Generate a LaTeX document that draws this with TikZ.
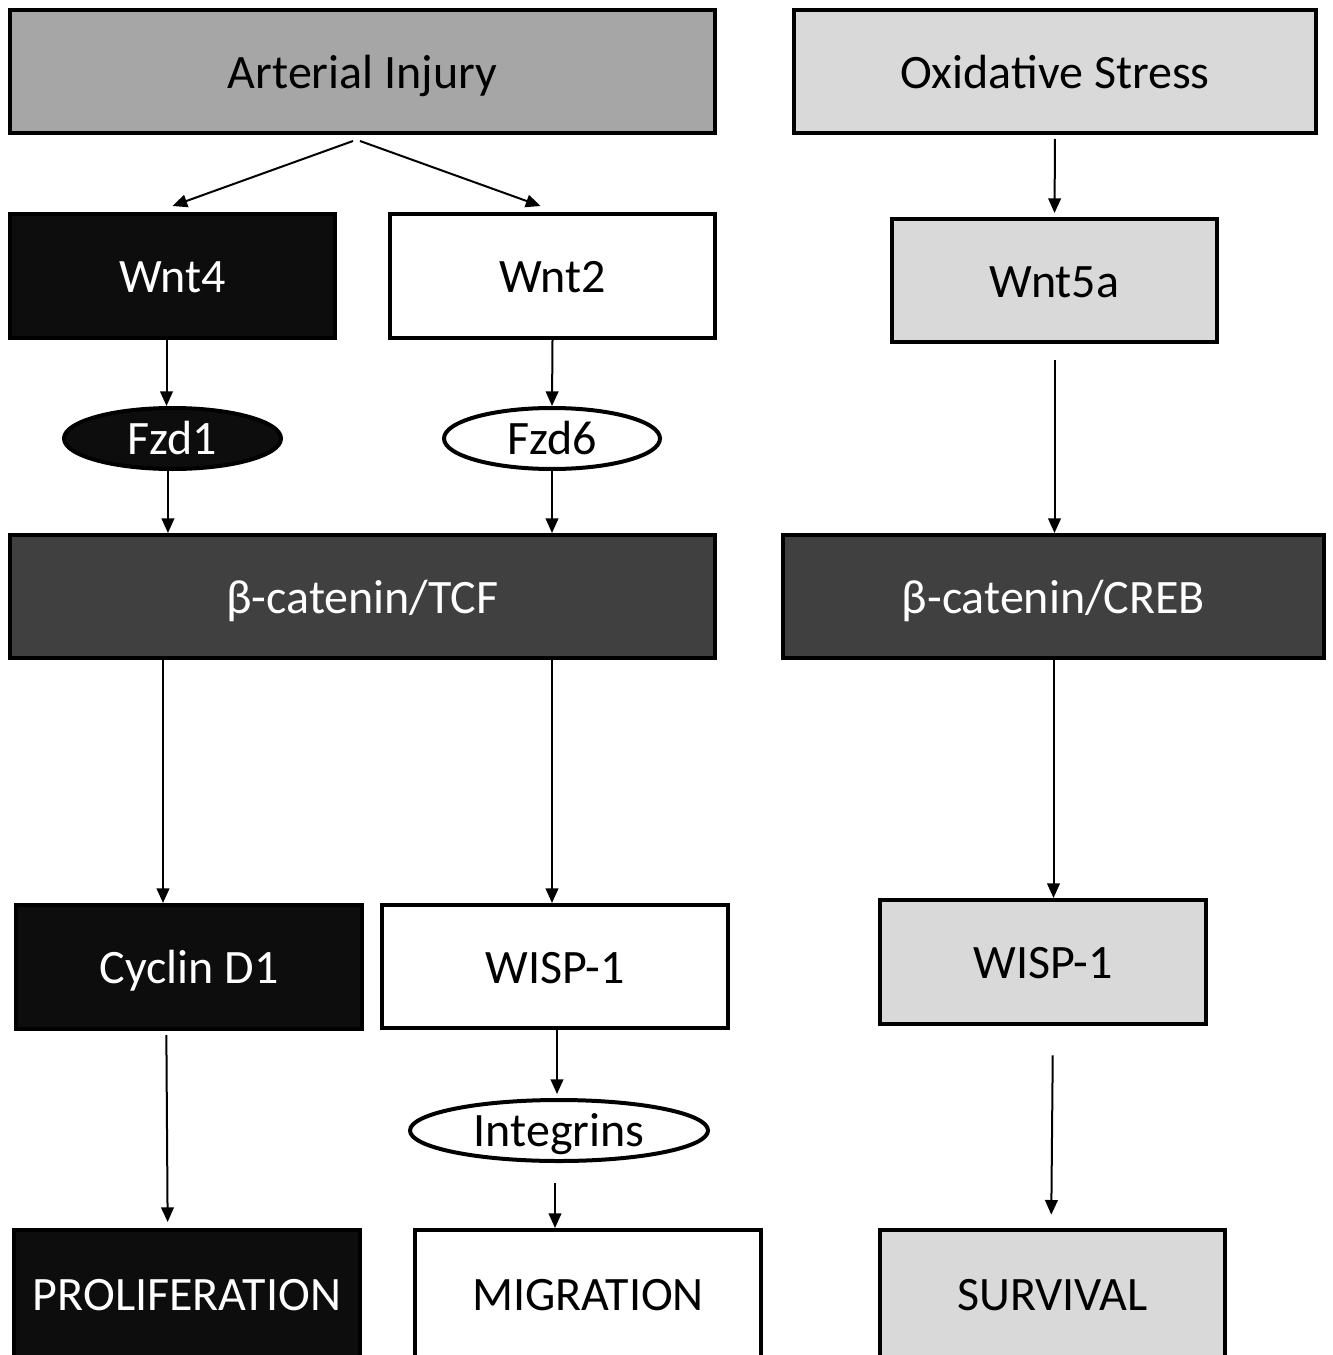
\documentclass[tikz,border=0pt]{standalone}
\usepackage{fontspec}
\setmainfont{Carlito}
\usetikzlibrary{shapes.geometric,arrows.meta}
\definecolor{gA}{HTML}{A6A6A6}
\definecolor{gL}{HTML}{D9D9D9}
\definecolor{gD}{HTML}{404040}
\definecolor{gK}{HTML}{0D0D0D}
\begin{document}
\begin{tikzpicture}[x=0.75pt,y=-0.75pt,
  box/.style={draw=black,line width=3pt,rectangle,inner sep=0pt,text height=25.4pt,text depth=0pt,font=\fontsize{36}{40}\selectfont},
  oval/.style={draw=black,line width=3pt,ellipse,inner sep=0pt,text height=24.6pt,text depth=0pt,font=\fontsize{36}{40}\selectfont},
  arr/.style={line width=1.5pt,-{Triangle[length=11pt,width=9.5pt]}}]
\useasboundingbox (0,0) rectangle (1333,1355);
\begin{scope}
\clip (0,0) rectangle (1333,1355);
\node[box,fill=gA,minimum width=705*0.75pt,minimum height=123*0.75pt] (inj) at (362.5,71.5) {Arterial Injury};
\node[box,fill=gL,minimum width=522*0.75pt,minimum height=123*0.75pt] (ox) at (1055,71.5) {Oxidative Stress};
\node[box,fill=gK,text=white,minimum width=325*0.75pt,minimum height=124*0.75pt] (wnt4) at (172.5,276) {Wnt4};
\node[box,fill=white,minimum width=325*0.75pt,minimum height=124*0.75pt] (wnt2) at (552.5,276) {Wnt2};
\node[box,fill=gL,minimum width=325*0.75pt,minimum height=123*0.75pt] (wnt5a) at (1054.5,280.5) {Wnt5a};
\node[oval,fill=gK,text=white,minimum width=217*0.75pt,minimum height=61*0.75pt] (fzd1) at (172.5,438.5) {Fzd1};
\node[oval,fill=white,minimum width=216*0.75pt,minimum height=61*0.75pt] (fzd6) at (552,438.5) {Fzd6};
\node[box,fill=gD,text=white,minimum width=705*0.75pt,minimum height=123*0.75pt] (tcf) at (362.5,596.5) {β-catenin/TCF};
\node[box,fill=gD,text=white,minimum width=541*0.75pt,minimum height=123*0.75pt] (creb) at (1053.5,596.5) {β-catenin/CREB};
\node[box,fill=gK,text=white,minimum width=346*0.75pt,minimum height=124*0.75pt] (cyc) at (189,967) {Cyclin D1};
\node[box,fill=white,minimum width=346*0.75pt,minimum height=123*0.75pt] (wispa) at (555,966.5) {WISP-1};
\node[box,fill=gL,minimum width=326*0.75pt,minimum height=124*0.75pt] (wispb) at (1043,962) {WISP-1};
\node[oval,fill=white,minimum width=298*0.75pt,minimum height=61*0.75pt] (integ) at (559,1130.5) {Integrins};
\node[box,fill=gK,text=white,minimum width=346*0.75pt,minimum height=128*0.75pt] (prol) at (187,1294) {PROLIFERATION};
\node[box,fill=white,minimum width=346*0.75pt,minimum height=128*0.75pt] (mig) at (588,1294) {MIGRATION};
\node[box,fill=gL,minimum width=345*0.75pt,minimum height=128*0.75pt] (surv) at (1052.5,1294) {SURVIVAL};
\end{scope}
% connectors
\coordinate (injL) at (353,141);
\coordinate (injR) at (360,141);
\draw[arr] (injL) -- ([yshift=4.5pt]wnt4.north);
\draw[arr] (injR) -- ([xshift=-9pt,yshift=4.5pt]wnt2.north);
\draw[arr,shorten <=3pt,shorten >=3pt] (ox.south) -- (wnt5a.north);
\draw[arr] ([xshift=-4.5pt]wnt4.south) -- ([xshift=-4.5pt]fzd1.north);
\draw[arr] (wnt2.south) -- (fzd6.north);
\draw[arr] ([xshift=-3.4pt]fzd1.south) coordinate (f1) -- (tcf.north -| f1);
\draw[arr] (fzd6.south) -- (tcf.north -| fzd6.south);
\draw[arr,shorten <=12pt] (wnt5a.south) -- (creb.north -| wnt5a.south);
\draw[arr] (tcf.south -| cyc.north) ++(-19.5pt,0) coordinate (t1) -- (cyc.north -| t1);
\draw[arr] (tcf.south -| wispa.north) ++(-2.25pt,0) coordinate (t2) -- (wispa.north -| t2);
\draw[arr] (creb.south) -- (wispb.north -| creb.south);
\draw[arr,shorten >=3pt] (wispa.south) ++(1.5pt,0) coordinate (t3) -- (integ.north -| t3);
\draw[arr,shorten <=3pt,shorten >=4.5pt] ([xshift=-17pt]cyc.south) -- ([xshift=-16pt]prol.north -| cyc.south);
\draw[arr,shorten <=15pt] (integ.south) ++(-3pt,0) coordinate (t4) -- (mig.north -| t4);
\draw[arr,shorten <=22pt,shorten >=10pt] ([xshift=7.5pt]wispb.south) -- ([xshift=-1pt]surv.north);
\end{tikzpicture}
\end{document}
